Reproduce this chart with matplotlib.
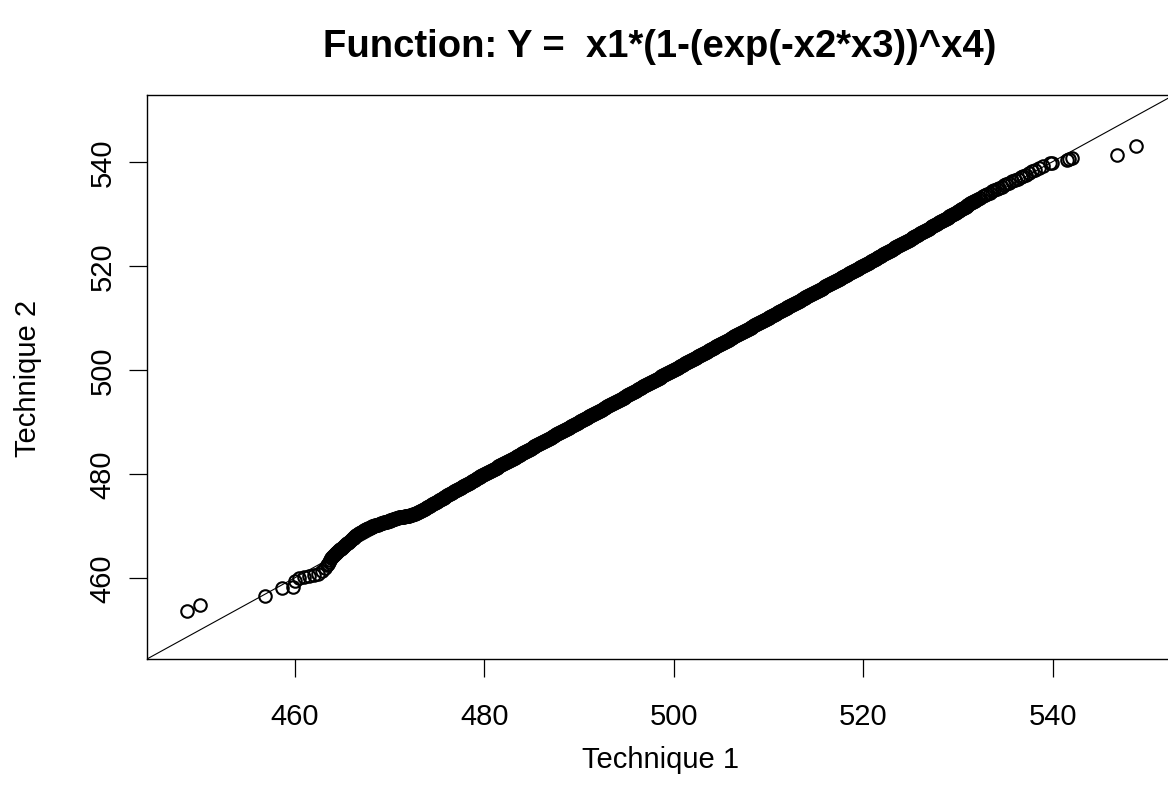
import matplotlib
matplotlib.use("Agg")
import matplotlib.pyplot as plt

plt.rcParams['font.family'] = ['Liberation Sans', 'DejaVu Sans']

title = "Function: Y =  x1*(1-(exp(-x2*x3))^x4)"
xlabel = "Technique 1"
ylabel = "Technique 2"
ticks = [460, 480, 500, 520, 540]
tick_labels = ["460", "480", "500", "520", "540"]

# lower tail (sorted quantiles)
t1_low = [448.6, 450.0, 456.9, 458.7, 459.8, 460.0, 460.45, 461.0, 461.5, 462.0,
          462.4, 462.9, 463.2,
          463.4, 463.5, 463.6, 463.7, 463.8, 463.9,
          464.0, 464.1, 464.2, 464.3, 464.4, 464.5, 464.6, 464.7, 464.8, 464.9,
          465.0, 465.1, 465.2, 465.3, 465.4, 465.5, 465.6, 465.7, 465.8, 465.9,
          466.0, 466.1, 466.2, 466.3, 466.4, 466.5, 466.6, 466.7, 466.8, 466.9,
          467.0, 467.1, 467.2, 467.3, 467.4, 467.5, 467.6, 467.7, 467.8, 467.9,
          468.0, 468.1, 468.2, 468.3, 468.4, 468.5, 468.6, 468.7, 468.8, 468.9,
          469.0, 469.1, 469.2, 469.3, 469.4, 469.5, 469.6, 469.7, 469.8, 469.9]
t2_low = [453.6, 454.7, 456.6, 458.1, 458.3, 459.4, 459.9, 460.2, 460.4, 460.5,
          460.7, 461.35, 461.8,
          462.4, 462.75, 463.1, 463.5, 463.8, 464.0,
          464.2, 464.35, 464.5, 464.7, 464.85, 465.0, 465.15, 465.3, 465.45, 465.6,
          465.75, 465.9, 466.1, 466.25, 466.42, 466.6, 466.78, 466.95, 467.1, 467.28,
          467.45, 467.6, 467.75, 467.9, 468.05, 468.2, 468.32, 468.45, 468.58, 468.7,
          468.8, 468.9, 469.0, 469.1, 469.2, 469.3, 469.4, 469.5, 469.58, 469.65,
          469.72, 469.8, 469.88, 469.95, 470.02, 470.1, 470.15, 470.2, 470.25, 470.3,
          470.38, 470.45, 470.52, 470.6, 470.65, 470.72, 470.77, 470.82, 470.87, 470.92]

# dense central part
t1_mid = [
    470.0, 470.1, 470.2, 470.3, 470.4, 470.5, 470.6, 470.7, 470.8, 470.9,
    471.0, 471.1, 471.2, 471.3, 471.4, 471.5, 471.6, 471.7, 471.8, 471.9,
    472.0, 472.1, 472.2, 472.3, 472.4, 472.5, 472.6, 472.7, 472.8, 472.9,
    473.0, 473.1, 473.2, 473.3, 473.4, 473.5, 473.6, 473.7, 473.8, 473.9,
    474.0, 474.1, 474.2, 474.3, 474.4, 474.5, 474.6, 474.7, 474.8, 474.9,
    475.0, 475.1, 475.2, 475.3, 475.4, 475.5, 475.6, 475.7, 475.8, 475.9,
    476.0, 476.1, 476.2, 476.3, 476.4, 476.5, 476.6, 476.7, 476.8, 476.9,
    477.0, 477.1, 477.2, 477.3, 477.4, 477.5, 477.6, 477.7, 477.8, 477.9,
    478.0, 478.1, 478.2, 478.3, 478.4, 478.5, 478.6, 478.7, 478.8, 478.9,
    479.0, 479.1, 479.2, 479.3, 479.4, 479.5, 479.6, 479.7, 479.8, 479.9,
    480.0, 480.1, 480.2, 480.3, 480.4, 480.5, 480.6, 480.7, 480.8, 480.9,
    481.0, 481.1, 481.2, 481.3, 481.4, 481.5, 481.6, 481.7, 481.8, 481.9,
    482.0, 482.1, 482.2, 482.3, 482.4, 482.5, 482.6, 482.7, 482.8, 482.9,
    483.0, 483.1, 483.2, 483.3, 483.4, 483.5, 483.6, 483.7, 483.8, 483.9,
    484.0, 484.1, 484.2, 484.3, 484.4, 484.5, 484.6, 484.7, 484.8, 484.9,
    485.0, 485.1, 485.2, 485.3, 485.4, 485.5, 485.6, 485.7, 485.8, 485.9,
    486.0, 486.1, 486.2, 486.3, 486.4, 486.5, 486.6, 486.7, 486.8, 486.9,
    487.0, 487.1, 487.2, 487.3, 487.4, 487.5, 487.6, 487.7, 487.8, 487.9,
    488.0, 488.1, 488.2, 488.3, 488.4, 488.5, 488.6, 488.7, 488.8, 488.9,
    489.0, 489.1, 489.2, 489.3, 489.4, 489.5, 489.6, 489.7, 489.8, 489.9,
    490.0, 490.1, 490.2, 490.3, 490.4, 490.5, 490.6, 490.7, 490.8, 490.9,
    491.0, 491.1, 491.2, 491.3, 491.4, 491.5, 491.6, 491.7, 491.8, 491.9,
    492.0, 492.1, 492.2, 492.3, 492.4, 492.5, 492.6, 492.7, 492.8, 492.9,
    493.0, 493.1, 493.2, 493.3, 493.4, 493.5, 493.6, 493.7, 493.8, 493.9,
    494.0, 494.1, 494.2, 494.3, 494.4, 494.5, 494.6, 494.7, 494.8, 494.9,
    495.0, 495.1, 495.2, 495.3, 495.4, 495.5, 495.6, 495.7, 495.8, 495.9,
    496.0, 496.1, 496.2, 496.3, 496.4, 496.5, 496.6, 496.7, 496.8, 496.9,
    497.0, 497.1, 497.2, 497.3, 497.4, 497.5, 497.6, 497.7, 497.8, 497.9,
    498.0, 498.1, 498.2, 498.3, 498.4, 498.5, 498.6, 498.7, 498.8, 498.9,
    499.0, 499.1, 499.2, 499.3, 499.4, 499.5, 499.6, 499.7, 499.8, 499.9,
    500.0, 500.1, 500.2, 500.3, 500.4, 500.5, 500.6, 500.7, 500.8, 500.9,
    501.0, 501.1, 501.2, 501.3, 501.4, 501.5, 501.6, 501.7, 501.8, 501.9,
    502.0, 502.1, 502.2, 502.3, 502.4, 502.5, 502.6, 502.7, 502.8, 502.9,
    503.0, 503.1, 503.2, 503.3, 503.4, 503.5, 503.6, 503.7, 503.8, 503.9,
    504.0, 504.1, 504.2, 504.3, 504.4, 504.5, 504.6, 504.7, 504.8, 504.9,
    505.0, 505.1, 505.2, 505.3, 505.4, 505.5, 505.6, 505.7, 505.8, 505.9,
    506.0, 506.1, 506.2, 506.3, 506.4, 506.5, 506.6, 506.7, 506.8, 506.9,
    507.0, 507.1, 507.2, 507.3, 507.4, 507.5, 507.6, 507.7, 507.8, 507.9,
    508.0, 508.1, 508.2, 508.3, 508.4, 508.5, 508.6, 508.7, 508.8, 508.9,
    509.0, 509.1, 509.2, 509.3, 509.4, 509.5, 509.6, 509.7, 509.8, 509.9,
    510.0, 510.1, 510.2, 510.3, 510.4, 510.5, 510.6, 510.7, 510.8, 510.9,
    511.0, 511.1, 511.2, 511.3, 511.4, 511.5, 511.6, 511.7, 511.8, 511.9,
    512.0, 512.1, 512.2, 512.3, 512.4, 512.5, 512.6, 512.7, 512.8, 512.9,
    513.0, 513.1, 513.2, 513.3, 513.4, 513.5, 513.6, 513.7, 513.8, 513.9,
    514.0, 514.1, 514.2, 514.3, 514.4, 514.5, 514.6, 514.7, 514.8, 514.9,
    515.0, 515.1, 515.2, 515.3, 515.4, 515.5, 515.6, 515.7, 515.8, 515.9,
    516.0, 516.1, 516.2, 516.3, 516.4, 516.5, 516.6, 516.7, 516.8, 516.9,
    517.0, 517.1, 517.2, 517.3, 517.4, 517.5, 517.6, 517.7, 517.8, 517.9,
    518.0, 518.1, 518.2, 518.3, 518.4, 518.5, 518.6, 518.7, 518.8, 518.9,
    519.0, 519.1, 519.2, 519.3, 519.4, 519.5, 519.6, 519.7, 519.8, 519.9,
    520.0, 520.1, 520.2, 520.3, 520.4, 520.5, 520.6, 520.7, 520.8, 520.9,
    521.0, 521.1, 521.2, 521.3, 521.4, 521.5, 521.6, 521.7, 521.8, 521.9,
    522.0, 522.1, 522.2, 522.3, 522.4, 522.5, 522.6, 522.7, 522.8, 522.9,
    523.0, 523.1, 523.2, 523.3, 523.4, 523.5, 523.6, 523.7, 523.8, 523.9,
    524.0, 524.1, 524.2, 524.3, 524.4, 524.5, 524.6, 524.7, 524.8, 524.9,
    525.0, 525.1, 525.2, 525.3, 525.4, 525.5, 525.6, 525.7, 525.8, 525.9,
    526.0, 526.1, 526.2, 526.3, 526.4, 526.5, 526.6, 526.7, 526.8, 526.9,
    527.0, 527.1, 527.2, 527.3, 527.4, 527.5, 527.6, 527.7, 527.8, 527.9,
    528.0, 528.1, 528.2, 528.3, 528.4, 528.5, 528.6, 528.7, 528.8, 528.9,
    529.0, 529.1, 529.2, 529.3, 529.4, 529.5, 529.6, 529.7, 529.8, 529.9,
    530.0, 530.1, 530.2, 530.3, 530.4, 530.5, 530.6, 530.7, 530.8, 530.9,
    531.0, 531.1, 531.2, 531.3, 531.4, 531.5, 531.6, 531.7, 531.8, 531.9]
t2_mid = [
    471.0, 471.05, 471.1, 471.18, 471.25, 471.32, 471.4, 471.45, 471.5, 471.55,
    471.6, 471.65, 471.7, 471.72, 471.75, 471.78, 471.8, 471.82, 471.85, 471.88,
    471.9, 471.95, 472.0, 472.05, 472.1, 472.18, 472.25, 472.32, 472.4, 472.5,
    472.6, 472.7, 472.8, 472.9, 473.0, 473.1, 473.2, 473.3, 473.4, 473.5,
    473.6, 473.7, 473.8, 473.9, 474.0, 474.1, 474.2, 474.32, 474.45, 474.55,
    474.65, 474.78, 474.9, 475.0, 475.1, 475.2, 475.3, 475.4, 475.5, 475.62,
    475.75, 475.85, 475.95, 476.05, 476.15, 476.25, 476.35, 476.48, 476.6, 476.7,
    476.8, 476.9, 477.0, 477.1, 477.2, 477.3, 477.4, 477.5, 477.6, 477.7,
    477.8, 477.9, 478.0, 478.1, 478.2, 478.32, 478.45, 478.55, 478.65, 478.75,
    478.85, 478.98, 479.1, 479.2, 479.3, 479.4, 479.5, 479.6, 479.7, 479.8,
    479.9, 480.0, 480.1, 480.2, 480.3, 480.4, 480.5, 480.6, 480.7, 480.8,
    480.9, 481.0, 481.1, 481.2, 481.3, 481.4, 481.5, 481.6, 481.7, 481.8,
    481.9, 482.0, 482.1, 482.2, 482.3, 482.4, 482.5, 482.6, 482.7, 482.8,
    482.9, 483.0, 483.1, 483.2, 483.3, 483.4, 483.5, 483.6, 483.7, 483.8,
    483.95, 484.05, 484.15, 484.25, 484.35, 484.45, 484.55, 484.65, 484.75, 484.85,
    484.95, 485.05, 485.15, 485.25, 485.35, 485.45, 485.55, 485.65, 485.75, 485.85,
    485.95, 486.05, 486.15, 486.25, 486.35, 486.45, 486.55, 486.65, 486.75, 486.85,
    486.95, 487.05, 487.15, 487.25, 487.35, 487.45, 487.55, 487.65, 487.75, 487.85,
    487.95, 488.05, 488.15, 488.25, 488.35, 488.45, 488.55, 488.65, 488.75, 488.85,
    488.95, 489.05, 489.15, 489.25, 489.35, 489.45, 489.55, 489.65, 489.75, 489.85,
    489.95, 490.05, 490.15, 490.25, 490.35, 490.45, 490.55, 490.65, 490.75, 490.85,
    490.95, 491.05, 491.15, 491.25, 491.35, 491.45, 491.55, 491.65, 491.75, 491.85,
    491.95, 492.05, 492.15, 492.25, 492.35, 492.45, 492.55, 492.65, 492.75, 492.85,
    492.95, 493.05, 493.15, 493.25, 493.35, 493.45, 493.55, 493.65, 493.75, 493.85,
    493.95, 494.05, 494.15, 494.25, 494.35, 494.45, 494.55, 494.65, 494.75, 494.85,
    495.0, 495.1, 495.2, 495.3, 495.4, 495.5, 495.6, 495.7, 495.8, 495.9,
    496.0, 496.1, 496.2, 496.3, 496.4, 496.5, 496.6, 496.7, 496.8, 496.9,
    497.0, 497.1, 497.2, 497.3, 497.4, 497.5, 497.6, 497.7, 497.8, 497.9,
    498.0, 498.1, 498.2, 498.3, 498.4, 498.5, 498.6, 498.7, 498.8, 498.9,
    499.0, 499.1, 499.2, 499.3, 499.4, 499.5, 499.6, 499.7, 499.8, 499.9,
    500.0, 500.1, 500.2, 500.3, 500.4, 500.5, 500.6, 500.7, 500.8, 500.9,
    501.0, 501.1, 501.2, 501.3, 501.4, 501.5, 501.6, 501.7, 501.8, 501.9,
    502.0, 502.1, 502.2, 502.3, 502.4, 502.5, 502.6, 502.7, 502.8, 502.9,
    503.0, 503.1, 503.2, 503.3, 503.4, 503.5, 503.6, 503.7, 503.8, 503.9,
    504.0, 504.1, 504.2, 504.3, 504.4, 504.5, 504.6, 504.7, 504.8, 504.9,
    505.0, 505.1, 505.2, 505.3, 505.4, 505.5, 505.6, 505.7, 505.8, 505.9,
    506.0, 506.1, 506.2, 506.3, 506.4, 506.5, 506.6, 506.7, 506.8, 506.9,
    507.0, 507.1, 507.2, 507.3, 507.4, 507.5, 507.6, 507.7, 507.8, 507.9,
    508.0, 508.1, 508.2, 508.3, 508.4, 508.5, 508.6, 508.7, 508.8, 508.9,
    509.0, 509.1, 509.2, 509.3, 509.4, 509.5, 509.6, 509.7, 509.8, 509.9,
    510.0, 510.1, 510.2, 510.3, 510.4, 510.5, 510.6, 510.7, 510.8, 510.9,
    511.0, 511.1, 511.2, 511.3, 511.4, 511.5, 511.6, 511.7, 511.8, 511.9,
    512.0, 512.1, 512.2, 512.3, 512.4, 512.5, 512.6, 512.7, 512.8, 512.9,
    513.0, 513.1, 513.2, 513.3, 513.4, 513.5, 513.6, 513.7, 513.8, 513.9,
    514.0, 514.1, 514.2, 514.3, 514.4, 514.5, 514.6, 514.7, 514.8, 514.9,
    515.0, 515.1, 515.2, 515.3, 515.4, 515.5, 515.6, 515.7, 515.8, 515.9,
    516.0, 516.1, 516.2, 516.3, 516.4, 516.5, 516.6, 516.7, 516.8, 516.9,
    517.0, 517.1, 517.2, 517.3, 517.4, 517.5, 517.6, 517.7, 517.8, 517.9,
    518.0, 518.1, 518.2, 518.3, 518.4, 518.5, 518.6, 518.7, 518.8, 518.9,
    519.0, 519.1, 519.2, 519.3, 519.4, 519.5, 519.6, 519.7, 519.8, 519.9,
    520.0, 520.1, 520.2, 520.3, 520.4, 520.5, 520.6, 520.7, 520.8, 520.9,
    521.05, 521.15, 521.25, 521.35, 521.45, 521.55, 521.65, 521.75, 521.85, 521.95,
    522.05, 522.15, 522.25, 522.35, 522.45, 522.55, 522.65, 522.75, 522.85, 522.95,
    523.1, 523.2, 523.3, 523.4, 523.5, 523.6, 523.7, 523.8, 523.9, 524.0,
    524.1, 524.2, 524.3, 524.4, 524.5, 524.6, 524.7, 524.8, 524.9, 525.0,
    525.15, 525.25, 525.35, 525.45, 525.55, 525.65, 525.75, 525.85, 525.95, 526.05,
    526.2, 526.3, 526.4, 526.5, 526.6, 526.7, 526.8, 526.9, 527.0, 527.1,
    527.25, 527.35, 527.45, 527.55, 527.65, 527.75, 527.85, 527.95, 528.05, 528.15,
    528.3, 528.4, 528.5, 528.6, 528.7, 528.8, 528.9, 529.0, 529.1, 529.2,
    529.4, 529.5, 529.6, 529.7, 529.8, 529.9, 530.0, 530.1, 530.2, 530.3,
    530.5, 530.6, 530.7, 530.8, 530.9, 531.0, 531.1, 531.2, 531.3, 531.4,
    531.65, 531.75, 531.85, 531.95, 532.05, 532.15, 532.25, 532.35, 532.45, 532.55]

# upper tail
t1_high = [532.1, 532.35, 532.6, 532.85, 533.1, 533.35, 533.6, 533.85, 534.1, 534.35,
           534.6, 534.85, 535.1, 535.4, 535.7, 536.0, 536.3, 536.6, 536.9, 537.2,
           537.5, 537.8, 538.1, 538.6, 539.0, 539.7, 539.9, 541.5, 541.7, 542.0,
           546.8, 548.8]
t2_high = [532.8, 533.05, 533.3, 533.55, 533.8, 534.05, 534.3, 534.5, 534.75, 535.0,
           535.2, 535.45, 535.7, 535.95, 536.2, 536.45, 536.7, 536.95, 537.2, 537.5,
           537.8, 538.1, 538.4, 538.8, 539.1, 539.7, 539.8, 540.3, 540.5, 540.7,
           541.35, 542.95]

W, H = 1168, 803
fig = plt.figure(figsize=(W / 100, H / 100), dpi=100)
left, right, top, bottom = 147, 1174, 96, 660
ax = fig.add_axes([left / W, 1 - bottom / H, (right - left) / W, (bottom - top) / H])

for xs, ys in ((t1_low, t2_low), (t1_mid, t2_mid), (t1_high, t2_high)):
    ax.plot(xs, ys, linestyle='none', marker='o', markersize=9,
            markerfacecolor='none', markeredgecolor='black', markeredgewidth=1.5)

ax.axline((500, 500), slope=1, color='black', linewidth=0.8)

ax.set_xlim(444.4, 552.8)
ax.set_ylim(444.4, 552.8)
ax.set_xticks(ticks)
ax.set_xticklabels(tick_labels)
ax.set_yticks(ticks)
ax.set_yticklabels(tick_labels, rotation=90, va='center')
ax.tick_params(axis='both', length=13, width=0.9, labelsize=21, color='black')
ax.tick_params(axis='x', pad=18)
ax.tick_params(axis='y', pad=9)
for s in ax.spines.values():
    s.set_linewidth(1.0)

fig.text(660 / W, 1 - 47 / H, title, ha='center', va='center',
         fontsize=27.5, fontweight='bold')
fig.text(660 / W, 1 - 760 / H, xlabel, ha='center', va='center', fontsize=21)
fig.text(28 / W, 1 - 378 / H, ylabel, ha='center', va='center', fontsize=21,
         rotation=90)

fig.savefig("out.png", dpi=100)
